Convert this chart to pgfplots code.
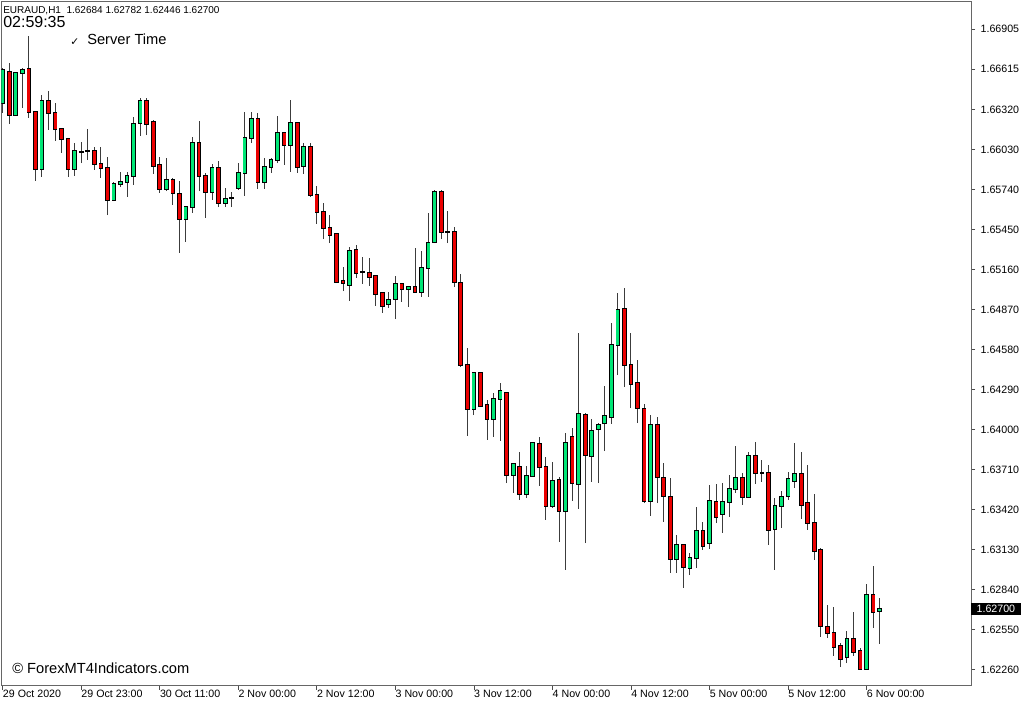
\documentclass[border=0pt]{standalone}
\usepackage{fontspec}
\setmainfont{Liberation Sans}
\newfontfamily\symfont{DejaVu Sans}
\usepackage{pgfplots}
\pgfplotsset{compat=1.18}
\usepackage{pgfplotstable}

\definecolor{bull}{RGB}{0,230,118}
\definecolor{bear}{RGB}{235,0,0}
\definecolor{wick}{RGB}{60,60,60}

% EURAUD H1 bars: index, open, high, low, close
\pgfplotstableread{
i o h l c
0 1.66368 1.66622 1.66296 1.66608
1 1.66593 1.66658 1.66216 1.66281
2 1.66281 1.66593 1.66274 1.66586
3 1.66586 1.66622 1.66332 1.66608
4 1.66615 1.66854 1.66260 1.66303
5 1.66303 1.66303 1.65803 1.65890
6 1.65890 1.66426 1.65832 1.66383
7 1.66383 1.66455 1.66173 1.66296
8 1.66296 1.66368 1.66093 1.66180
9 1.66180 1.66180 1.66006 1.66107
10 1.66107 1.66115 1.65832 1.65890
11 1.65890 1.66078 1.65839 1.66020
12 1.66013 1.66086 1.65933 1.66013
13 1.66020 1.66180 1.65955 1.66020
14 1.66020 1.66049 1.65883 1.65926
15 1.65926 1.66049 1.65825 1.65897
16 1.65897 1.65977 1.65556 1.65665
17 1.65665 1.65796 1.65665 1.65781
18 1.65781 1.65868 1.65759 1.65796
19 1.65796 1.65868 1.65687 1.65839
20 1.65839 1.66267 1.65774 1.66216
21 1.66223 1.66405 1.66129 1.66383
22 1.66383 1.66405 1.66136 1.66216
23 1.66231 1.66245 1.65854 1.65912
24 1.65919 1.65977 1.65716 1.65745
25 1.65745 1.65970 1.65730 1.65810
26 1.65810 1.65825 1.65629 1.65716
27 1.65709 1.65803 1.65281 1.65527
28 1.65527 1.65614 1.65361 1.65614
29 1.65614 1.66122 1.65571 1.66078
30 1.66078 1.66238 1.65730 1.65839
31 1.65839 1.65861 1.65535 1.65723
32 1.65723 1.65926 1.65665 1.65897
33 1.65897 1.65948 1.65614 1.65643
34 1.65643 1.65752 1.65614 1.65672
35 1.65680 1.65723 1.65614 1.65680
36 1.65752 1.65933 1.65738 1.65861
37 1.65861 1.66303 1.65694 1.66115
38 1.66115 1.66303 1.66078 1.66252
39 1.66252 1.66296 1.65745 1.65796
40 1.65796 1.65970 1.65745 1.65904
41 1.65904 1.65970 1.65861 1.65955
42 1.65955 1.66274 1.65933 1.66151
43 1.66151 1.66158 1.65919 1.66064
44 1.66064 1.66390 1.65868 1.66223
45 1.66223 1.66231 1.65861 1.65904
46 1.65912 1.66078 1.65854 1.66049
47 1.66049 1.66078 1.65687 1.65701
48 1.65701 1.65767 1.65491 1.65578
49 1.65578 1.65643 1.65382 1.65462
50 1.65462 1.65556 1.65353 1.65411
51 1.65419 1.65419 1.65063 1.65071
52 1.65078 1.65179 1.65005 1.65063
53 1.65049 1.65324 1.64933 1.65295
54 1.65303 1.65339 1.65100 1.65136
55 1.65143 1.65252 1.65056 1.65143
56 1.65136 1.65245 1.65042 1.65107
57 1.65114 1.65114 1.64897 1.64984
58 1.64991 1.64991 1.64846 1.64897
59 1.64911 1.64998 1.64882 1.64940
60 1.64947 1.65114 1.64802 1.65056
61 1.65056 1.65056 1.64926 1.65020
62 1.65020 1.65042 1.64889 1.65034
63 1.65034 1.65317 1.64998 1.64998
64 1.64998 1.65295 1.64962 1.65172
65 1.65172 1.65571 1.64962 1.65353
66 1.65361 1.65738 1.65353 1.65723
67 1.65723 1.65738 1.65382 1.65433
68 1.65433 1.65585 1.65353 1.65433
69 1.65433 1.65469 1.65034 1.65071
70 1.65063 1.65129 1.64454 1.64469
71 1.64469 1.64592 1.63954 1.64150
72 1.64150 1.64411 1.64106 1.64411
73 1.64411 1.64411 1.64164 1.64172
74 1.64179 1.64215 1.63925 1.64077
75 1.64077 1.64266 1.63947 1.64222
76 1.64222 1.64338 1.63918 1.64280
77 1.64266 1.64273 1.63613 1.63671
78 1.63671 1.63751 1.63541 1.63751
79 1.63729 1.63838 1.63490 1.63534
80 1.63534 1.63737 1.63505 1.63664
81 1.63664 1.63903 1.63664 1.63903
82 1.63896 1.63947 1.63592 1.63729
83 1.63729 1.63802 1.63345 1.63447
84 1.63447 1.63766 1.63432 1.63628
85 1.63635 1.63657 1.63186 1.63410
86 1.63410 1.63976 1.62983 1.63903
87 1.63947 1.64012 1.63483 1.63613
88 1.63606 1.64701 1.63425 1.64114
89 1.64106 1.64121 1.63178 1.63816
90 1.63809 1.64077 1.63621 1.63990
91 1.64005 1.64048 1.63613 1.64034
92 1.64048 1.64317 1.63845 1.64099
93 1.64092 1.64773 1.64041 1.64614
94 1.64614 1.64991 1.64396 1.64868
95 1.64875 1.65027 1.64309 1.64469
96 1.64469 1.64701 1.64157 1.64331
97 1.64338 1.64505 1.64048 1.64157
98 1.64150 1.64186 1.63468 1.63483
99 1.63483 1.64106 1.63374 1.64034
100 1.64034 1.64092 1.63468 1.63657
101 1.63650 1.63758 1.63331 1.63519
102 1.63512 1.63650 1.62961 1.63062
103 1.63062 1.63236 1.62961 1.63164
104 1.63164 1.63164 1.62852 1.63004
105 1.62997 1.63106 1.62946 1.63070
106 1.63070 1.63439 1.62997 1.63265
107 1.63265 1.63331 1.63128 1.63157
108 1.63178 1.63599 1.63135 1.63483
109 1.63476 1.63606 1.63323 1.63367
110 1.63389 1.63613 1.63251 1.63476
111 1.63476 1.63671 1.63367 1.63570
112 1.63570 1.63882 1.63541 1.63650
113 1.63650 1.63686 1.63454 1.63512
114 1.63512 1.63838 1.63512 1.63809
115 1.63809 1.63911 1.63606 1.63686
116 1.63686 1.63780 1.63621 1.63686
117 1.63686 1.63744 1.63164 1.63273
118 1.63280 1.63505 1.62983 1.63447
119 1.63447 1.63555 1.63287 1.63512
120 1.63519 1.63693 1.63490 1.63642
121 1.63628 1.63903 1.63577 1.63679
122 1.63679 1.63838 1.63352 1.63454
123 1.63468 1.63744 1.63273 1.63323
124 1.63323 1.63534 1.63055 1.63120
125 1.63128 1.63142 1.62497 1.62577
126 1.62569 1.62729 1.62490 1.62526
127 1.62526 1.62714 1.62359 1.62424
128 1.62432 1.62453 1.62279 1.62337
129 1.62352 1.62540 1.62308 1.62482
130 1.62482 1.62678 1.62359 1.62388
131 1.62395 1.62417 1.62265 1.62265
132 1.62265 1.62881 1.62265 1.62801
133 1.62801 1.63012 1.62562 1.62678
134 1.62684 1.62782 1.62446 1.62700
}\ohlc

\begin{document}
\begin{tikzpicture}
\path[use as bounding box] (-1.125pt,-14.25pt) rectangle (766.875pt,514.5pt);
\begin{axis}[
  scale only axis,
  width=727.125pt, height=513pt,
  xmin=-0.18, xmax=147.95,
  ymin=1.621415, ymax=1.671005,
  axis line style={black!60, line width=0.75pt},
  tick align=outside,
  major tick length=3pt,
  tick style={black!70, line width=0.6pt},
  xtick pos=bottom, ytick pos=right, yticklabel pos=right,
  xtick={0,12,24,36,48,60,72,84,96,108,120,132},
  xticklabels={29 Oct 2020,29 Oct 23:00,30 Oct 11:00,2 Nov 00:00,2 Nov 12:00,3 Nov 00:00,3 Nov 12:00,4 Nov 00:00,4 Nov 12:00,5 Nov 00:00,5 Nov 12:00,6 Nov 00:00},
  ytick={1.66905,1.66615,1.66320,1.66030,1.65740,1.65450,1.65160,1.64870,1.64580,1.64290,1.64000,1.63710,1.63420,1.63130,1.62840,1.62550,1.62260},
  yticklabels={1.66905,1.66615,1.66320,1.66030,1.65740,1.65450,1.65160,1.64870,1.64580,1.64290,1.64000,1.63710,1.63420,1.63130,1.62840,1.62550,1.62260},
  ticklabel style={font=\fontsize{8pt}{9pt}\selectfont, text=black},
  /pgf/number format/assume math mode=true,
  xticklabel style={anchor=north west, inner sep=0pt},
  yticklabel style={anchor=west, inner xsep=4pt, inner ysep=2pt},
  extra y ticks={1.627},
  extra y tick labels={1.62700},
  extra y tick style={major tick length=0pt, yticklabel style={fill=black, text=white}},
  candle/.style={draw=none, mark=none, forget plot,
    error bars/y dir=plus, error bars/y explicit, error bars/error mark=none},
]
% wicks
\addplot[candle, error bars/error bar style={draw=wick, line width=0.75pt, line cap=butt}]
  table[x=i, y=l, y error plus expr=\thisrow{h}-\thisrow{l}] {\ohlc};
% body outlines
\addplot[candle, error bars/error bar style={draw=black, line width=3.5pt, line cap=butt}]
  table[x=i, y expr={min(\thisrow{o},\thisrow{c})-0.000058},
        y error plus expr={abs(\thisrow{c}-\thisrow{o})+0.000116}] {\ohlc};
% rising bodies
\addplot[candle, error bars/error bar style={draw=bull, line width=2.2pt, line cap=butt}]
  table[x=i, y=o, y error plus expr={max(\thisrow{c}-\thisrow{o},0)}] {\ohlc};
% falling bodies
\addplot[candle, error bars/error bar style={draw=bear, line width=2.2pt, line cap=butt}]
  table[x=i, y=c, y error plus expr={max(\thisrow{o}-\thisrow{c},0)}] {\ohlc};
\end{axis}
\node[anchor=base west, inner sep=0pt, font=\fontsize{7.5pt}{9pt}\selectfont] at (1.125pt,504pt) {EURAUD,H1\ \ 1.62684 1.62782 1.62446 1.62700};
\node[anchor=base west, inner sep=0pt, font=\fontsize{12pt}{14pt}\selectfont] at (1.125pt,493.7pt) {02:59:35};
\node[anchor=base west, inner sep=0pt, font=\symfont\fontsize{8pt}{9pt}\selectfont] at (51.4pt,480pt) {✓};
\node[anchor=base west, inner sep=0pt, font=\fontsize{11pt}{13pt}\selectfont] at (64.125pt,480.75pt) {Server Time};
\node[anchor=base west, inner sep=0pt, font=\fontsize{11pt}{13pt}\selectfont] at (7.875pt,9pt) {© ForexMT4Indicators.com};
\end{tikzpicture}
\end{document}
